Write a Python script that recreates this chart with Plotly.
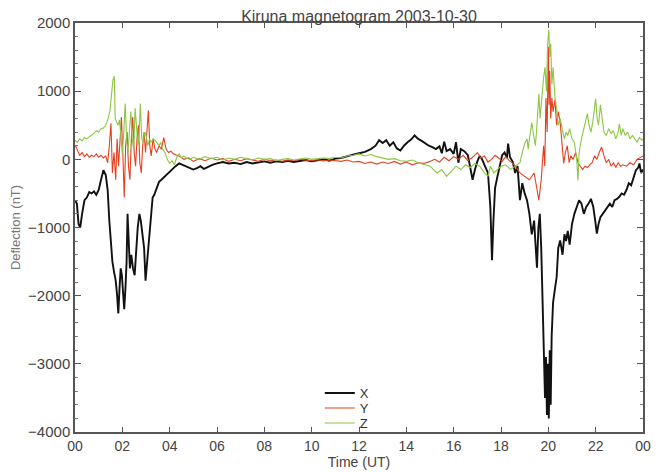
import plotly.graph_objects as go

# ---- data (hours UT, nT) ----
tx = [0.0, 0.08, 0.15, 0.22, 0.3, 0.4, 0.5, 0.6, 0.7, 0.8, 0.9, 1.0, 1.1, 1.2, 1.3, 1.38, 1.45, 1.5, 1.58, 1.65,
      1.72, 1.78, 1.83, 1.88, 1.93, 1.98, 2.03, 2.08, 2.13, 2.18, 2.22, 2.27, 2.32, 2.38, 2.45, 2.52, 2.58, 2.65, 2.72, 2.78,
      2.85, 2.92, 2.98, 3.05, 3.12, 3.2, 3.28, 3.35, 3.45, 3.55, 3.65, 3.8, 3.95, 4.1, 4.25, 4.4, 4.55, 4.7, 4.85, 5.0,
      5.15, 5.3, 5.45, 5.6, 5.8, 6.0, 6.25, 6.5, 6.75, 7.0, 7.25, 7.5, 7.75, 8.0, 8.25, 8.5, 8.75, 9.0, 9.25, 9.5,
      9.75, 10.0, 10.25, 10.5, 10.75, 11.0, 11.25, 11.5, 11.75, 12.0, 12.25, 12.5, 12.7, 12.85, 13.0, 13.15, 13.3, 13.45, 13.6, 13.75,
      13.9, 14.05, 14.2, 14.35, 14.5, 14.65, 14.8, 14.95, 15.1, 15.25, 15.4, 15.5, 15.6, 15.7, 15.85, 16.0, 16.1, 16.2, 16.3, 16.45,
      16.6, 16.7, 16.8, 16.9, 17.0, 17.1, 17.2, 17.3, 17.45, 17.55, 17.62, 17.68, 17.75, 17.85, 17.95, 18.05, 18.15, 18.25, 18.3, 18.38,
      18.5, 18.6, 18.7, 18.8, 18.9, 19.0, 19.1, 19.2, 19.3, 19.4, 19.45, 19.52, 19.58, 19.64, 19.7, 19.76, 19.82, 19.86, 19.9, 19.94,
      19.98, 20.02, 20.06, 20.1, 20.14, 20.2, 20.28, 20.35, 20.42, 20.5, 20.6, 20.68, 20.75, 20.82, 20.9, 21.0, 21.1, 21.2, 21.3, 21.4,
      21.5, 21.6, 21.7, 21.8, 21.9, 21.98, 22.05, 22.12, 22.2, 22.3, 22.4, 22.5, 22.6, 22.7, 22.8, 22.9, 23.0, 23.1, 23.2, 23.3,
      23.4, 23.5, 23.6, 23.7, 23.8, 23.85, 23.92, 24.0]
x_comp = [-600, -650, -950, -1000, -800, -600, -560, -480, -500, -470, -520, -450, -300, -160, -230, -450, -900, -1200, -1500, -1650,
          -1780, -2000, -2260, -1900, -1600, -1700, -2000, -2200, -1900, -1500, -800, -1200, -1600, -1400, -1600, -1700, -1300, -1000, -800, -900,
          -1100, -1300, -1780, -1500, -1100, -900, -560, -520, -420, -330, -300, -250, -190, -140, -100, -60, -80, -100, -120, -150,
          -130, -100, -140, -110, -80, -60, -40, -60, -50, -70, -40, -60, -50, -30, -50, -30, -40, -20, -40, -30,
          -10, -30, -20, 0, -20, 10, 20, 50, 70, 90, 110, 150, 200, 280, 240, 280, 200, 250, 160, 130,
          200, 250, 290, 350, 300, 270, 230, 200, 180, 150, 190, 90, 260, 120, 150, 80, 250, -50, 150, 120,
          60, -100, -300, -150, -30, 50, 0, -80, -200, -700, -1480, -900, -420, -250, -80, 60, 100, 20, 230, 30,
          -40, -200, -100, -600, -350, -500, -600, -800, -1100, -900, -1200, -1590, -1000, -800, -1300, -2000, -2700, -3500, -2900, -3750,
          -3000, -3800, -2800, -3600, -2600, -2100, -1900, -1730, -1300, -1190, -1400, -1100, -1200, -1050, -1250, -950, -800, -700, -600, -650,
          -800, -700, -650, -580, -700, -900, -1090, -950, -850, -800, -750, -700, -650, -700, -600, -580, -550, -500, -520, -450,
          -350, -380, -280, -160, -120, -60, -200, -150]

ty = [0.0, 0.05, 0.12, 0.2, 0.3, 0.4, 0.5, 0.6, 0.7, 0.8, 0.9, 1.0, 1.1, 1.2, 1.3, 1.38, 1.45, 1.52, 1.58, 1.65,
      1.72, 1.78, 1.84, 1.9, 1.96, 2.02, 2.08, 2.14, 2.2, 2.26, 2.32, 2.38, 2.44, 2.5, 2.56, 2.62, 2.68, 2.74, 2.8, 2.86,
      2.92, 2.98, 3.04, 3.1, 3.16, 3.22, 3.3, 3.38, 3.45, 3.55, 3.65, 3.75, 3.85, 3.95, 4.05, 4.15, 4.3, 4.45, 4.6, 4.8,
      5.0, 5.25, 5.5, 5.75, 6.0, 6.25, 6.5, 6.75, 7.0, 7.25, 7.5, 7.75, 8.0, 8.25, 8.5, 8.75, 9.0, 9.25, 9.5, 9.75,
      10.0, 10.25, 10.5, 10.75, 11.0, 11.25, 11.5, 11.75, 12.0, 12.25, 12.5, 12.75, 13.0, 13.25, 13.5, 13.75, 14.0, 14.25, 14.5, 14.75,
      15.0, 15.2, 15.4, 15.6, 15.8, 16.0, 16.2, 16.4, 16.6, 16.8, 17.0, 17.15, 17.3, 17.45, 17.6, 17.75, 17.9, 18.05, 18.2, 18.35,
      18.5, 18.6, 18.8, 19.0, 19.2, 19.4, 19.5, 19.6, 19.7, 19.8, 19.85, 19.9, 19.95, 20.0, 20.03, 20.06, 20.1, 20.15, 20.2, 20.28,
      20.35, 20.42, 20.5, 20.58, 20.65, 20.72, 20.8, 20.88, 20.95, 21.05, 21.15, 21.25, 21.35, 21.45, 21.55, 21.65, 21.75, 21.85, 21.95, 22.05,
      22.15, 22.25, 22.35, 22.45, 22.55, 22.65, 22.75, 22.85, 22.95, 23.05, 23.15, 23.3, 23.45, 23.6, 23.75, 23.9, 24.0]
y_comp = [200, 180, 120, 60, 100, 40, 80, 30, 60, 40, 80, 30, 60, 20, 50, -50, 200, 530, -200, 100,
          -300, 300, -100, 200, 620, 100, -560, 200, 400, -100, -300, 300, 620, 100, -100, 300, 500, -50, -200, 200,
          400, 100, 500, 720, 200, 50, 300, 150, 100, 200, 150, 320, 150, 100, 120, 80, 60, 40, 0, 20,
          -30, 10, -20, 20, -10, 10, -30, 0, -20, 10, -10, -30, 0, -20, -10, -30, -10, -20, 0, -10,
          -20, -5, -25, -10, -20, -30, -10, -40, -30, -60, -40, -70, -40, -60, -30, -70, -40, -80, -50, -60,
          -30, 0, -40, 30, -20, 40, 0, 60, -20, 30, 100, 20, 50, -40, 0, 60, 20, -30, 40, -20,
          -60, -100, -200, -250, -300, -200, -400, -600, -300, 200, -100, 900, 400, 1650, 800, 1300, 600, 900, 700, 870,
          500, 700, 540, 200, -60, 100, 200, -50, 50, 0, 100, -50, -100, -150, -100, -120, -80, -50, 50, 0,
          100, 180, 50, -50, 0, -100, -50, -120, -50, -100, -80, -100, -50, -80, 0, 30, 50]

tz = [0.0, 0.1, 0.2, 0.3, 0.4, 0.5, 0.6, 0.7, 0.8, 0.9, 1.0, 1.1, 1.2, 1.3, 1.4, 1.48, 1.55, 1.6, 1.66, 1.7,
      1.76, 1.82, 1.88, 1.94, 2.0, 2.06, 2.12, 2.18, 2.24, 2.3, 2.36, 2.42, 2.48, 2.54, 2.6, 2.66, 2.72, 2.76, 2.82, 2.88,
      2.95, 3.0, 3.08, 3.15, 3.22, 3.3, 3.38, 3.45, 3.55, 3.62, 3.7, 3.8, 3.9, 4.0, 4.1, 4.2, 4.3, 4.4, 4.5, 4.6,
      4.7, 4.85, 5.0, 5.25, 5.5, 5.75, 6.0, 6.25, 6.5, 6.75, 7.0, 7.25, 7.5, 7.75, 8.0, 8.25, 8.5, 8.75, 9.0, 9.25,
      9.5, 9.75, 10.0, 10.25, 10.5, 10.75, 11.0, 11.25, 11.5, 11.75, 12.0, 12.25, 12.5, 12.75, 13.0, 13.25, 13.5, 13.75, 14.0, 14.25,
      14.5, 14.75, 15.0, 15.3, 15.5, 15.7, 15.9, 16.1, 16.3, 16.5, 16.7, 16.9, 17.1, 17.3, 17.45, 17.55, 17.7, 17.85, 18.0, 18.2,
      18.4, 18.6, 18.8, 18.9, 19.0, 19.1, 19.15, 19.2, 19.3, 19.38, 19.45, 19.5, 19.6, 19.65, 19.72, 19.8, 19.86, 19.92, 19.97, 20.02,
      20.06, 20.1, 20.15, 20.2, 20.28, 20.35, 20.42, 20.5, 20.6, 20.68, 20.75, 20.82, 20.9, 21.0, 21.1, 21.2, 21.25, 21.3, 21.4, 21.5,
      21.6, 21.65, 21.72, 21.8, 21.88, 21.95, 22.0, 22.06, 22.12, 22.2, 22.28, 22.35, 22.45, 22.55, 22.65, 22.75, 22.85, 22.95, 23.0, 23.08,
      23.15, 23.25, 23.35, 23.45, 23.55, 23.65, 23.75, 23.85, 23.95, 24.0]
z_comp = [280, 250, 300, 270, 320, 300, 330, 350, 380, 420, 400, 450, 460, 500, 600, 720, 950, 1160, 1220, 600,
          550, 500, 580, 300, 80, 400, 820, 300, 100, 400, 700, 300, 150, 750, 400, 200, 450, 820, 300, 250,
          400, 350, 200, 300, 250, 300, 280, 250, 200, 250, 150, 100, 0, -60, -20, -80, 30, 80, 20, 50,
          20, 0, 30, 0, 40, 10, 30, -10, 20, 0, 30, 10, -10, 20, 0, 10, -20, 0, 10, -10,
          10, 20, 0, 10, 20, 10, 30, 20, 50, 60, 80, 50, 70, 40, 20, 0, 10, -20, -30, -10,
          -50, -80, -100, -200, -150, -250, -180, -100, -150, -80, -120, -60, -100, -200, -250, -100, -200, -150, -100, -80,
          -150, -100, -50, 100, 230, 300, 150, 300, 540, 350, 200, 400, 960, 600, 900, 1200, 1350, 1000, 1700, 1900,
          1500, 1700, 1100, 1350, 900, 750, 500, 600, 420, 300, 400, 350, 450, 300, 250, 0, -310, 100, 300, 450,
          600, 670, 500, 400, 550, 800, 890, 600, 500, 800, 600, 400, 350, 450, 380, 420, 300, 400, 520, 350,
          450, 350, 400, 300, 350, 300, 250, 320, 280, 300]

hour_ticks = [0, 2, 4, 6, 8, 10, 12, 14, 16, 18, 20, 22, 24]
hour_labels = ["00", "02", "04", "06", "08", "10", "12", "14", "16", "18", "20", "22", "00"]

FONT = "Liberation Sans, Arial, sans-serif"

fig = go.Figure()
fig.add_trace(go.Scatter(x=tx, y=x_comp, mode="lines", name="X", legend="legend",
                         line=dict(color="#111111", width=1.9)))
fig.add_trace(go.Scatter(x=ty, y=y_comp, mode="lines", name="Y", legend="legend2",
                         line=dict(color="#e2401f", width=1.1)))
fig.add_trace(go.Scatter(x=tz, y=z_comp, mode="lines", name="Z", legend="legend3",
                         line=dict(color="#8cc643", width=1.1)))

leg_font = dict(family=FONT, size=13, color="#333333")
leg_common = dict(x=0.431, xanchor="left", yanchor="middle", bgcolor="rgba(0,0,0,0)",
                  font=leg_font, itemwidth=30, borderwidth=0)

# page body has an 8px default margin: figure is 657x464 so it fills the 665x472 window
fig.update_layout(
    width=657, height=464,
    margin=dict(l=67, r=22, t=15, b=40),
    paper_bgcolor="white", plot_bgcolor="white",
    font=dict(family=FONT, size=15, color="#444444"),
    title=dict(text="Kiruna magnetogram 2003-10-30", x=0.5, xref="paper", xanchor="center",
               y=1 - 8 / 464, yref="container", yanchor="middle",
               font=dict(family=FONT, size=16, color="#444444")),
    showlegend=True,
    legend=dict(y=(432 - 393) / 409, **leg_common),
    legend2=dict(y=(432 - 408) / 409, **leg_common),
    legend3=dict(y=(432 - 423) / 409, **leg_common),
)
fig.update_xaxes(range=[0, 24], tickvals=hour_ticks, ticktext=hour_labels,
                 ticks="inside", ticklen=5, tickcolor="#555555", mirror="ticks",
                 showline=True, linecolor="#555555", linewidth=1.5, automargin=False,
                 showgrid=False, zeroline=False, tickfont=dict(size=14),
                 title=dict(text="Time (UT)", standoff=0, font=dict(size=14)))
fig.update_yaxes(range=[-4000, 2000], tickvals=[-4000, -3000, -2000, -1000, 0, 1000, 2000],
                 ticks="inside", ticklen=6, tickcolor="#555555", mirror="ticks",
                 minor=dict(dtick=200, ticks="inside", ticklen=3, tickcolor="#777777"),
                 showline=True, linecolor="#555555", linewidth=1.5, automargin=False,
                 showgrid=False, zeroline=False, tickfont=dict(size=15),
                 title=dict(text="Deflection (nT)", standoff=14, font=dict(size=13, color="#777777")))

fig.write_html("out.html")
